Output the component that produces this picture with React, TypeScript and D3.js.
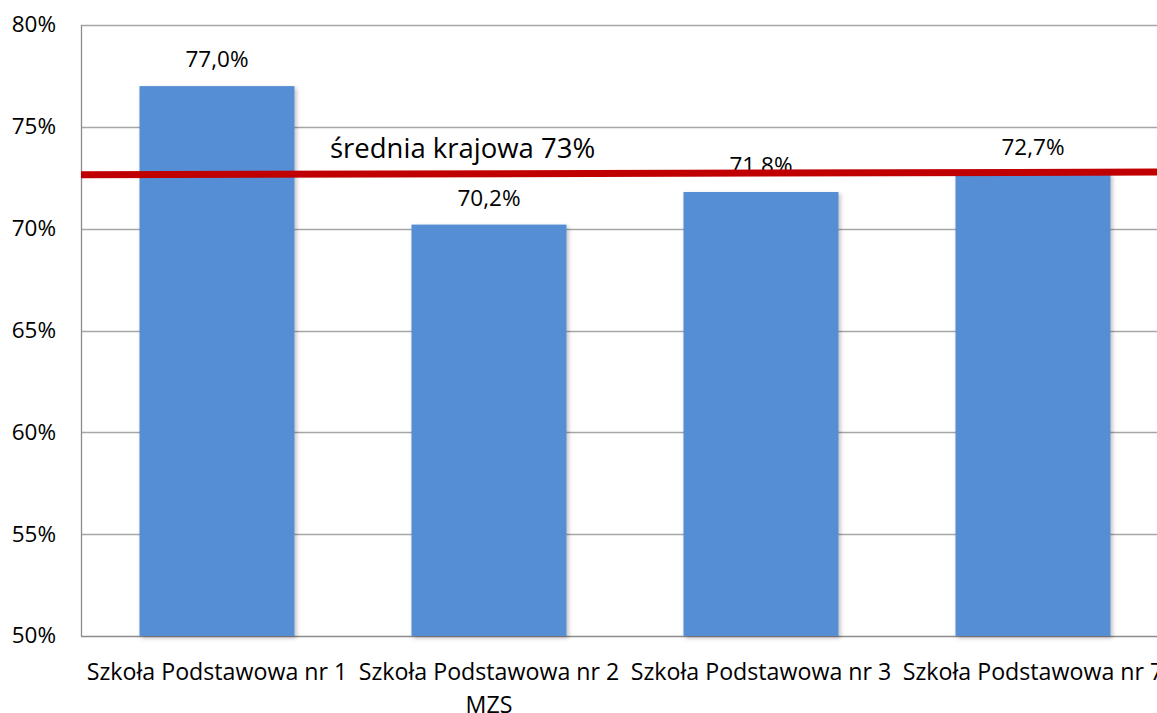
import React from 'react';
import * as d3 from 'd3';

// school names (line breaks as in the original)
const categories = [
  ['Szkoła Podstawowa nr 1'],
  ['Szkoła Podstawowa nr 2', 'MZS'],
  ['Szkoła Podstawowa nr 3'],
  ['Szkoła Podstawowa nr 7'],
];
const values = [77.0, 70.2, 71.8, 72.7];
const yTicks = [50, 55, 60, 65, 70, 75, 80];

// national average line (drawn slightly tilted in the source)
const avgLabel = 'średnia krajowa 73%';
const avgStart = 72.65;
const avgEnd = 72.78;

const W = 1157;
const H = 713;
const margin = { top: 25, right: -12, bottom: 77, left: 81 };
const FONT = "'Open Sans', 'Noto Sans', sans-serif";

const fmt = (v: number) => v.toFixed(1).replace('.', ',') + '%';

const App = () => {
  const x = d3
    .scaleBand<number>()
    .domain(d3.range(categories.length))
    .range([margin.left, W - margin.right])
    .paddingInner(0.43)
    .paddingOuter(0.215);

  const y = d3
    .scaleLinear()
    .domain([50, 80])
    .range([H - margin.bottom, margin.top]);

  const band = x.step();
  const plotRight = W - margin.right;

  return (
    <div style={{ position: 'absolute', left: 0, top: 0, background: '#fff' }}>
      <svg width={W} height={H} style={{ display: 'block', fontFamily: FONT }}>
        <defs>
          <filter id="shadow" x="-10%" y="-10%" width="130%" height="130%">
            <feDropShadow dx="2" dy="2" stdDeviation="2" floodColor="#000" floodOpacity="0.25" />
          </filter>
        </defs>
        <rect width={W} height={H} fill="#fff" />

        {/* grid */}
        {yTicks.map((t) => (
          <line
            key={t}
            x1={margin.left}
            x2={plotRight}
            y1={Math.round(y(t)) + 0.5}
            y2={Math.round(y(t)) + 0.5}
            stroke={t === 50 ? '#8c8c8c' : '#a6a6a6'}
            strokeWidth={1.3}
          />
        ))}
        <line
          x1={margin.left + 0.5}
          x2={margin.left + 0.5}
          y1={y(80)}
          y2={y(50)}
          stroke="#8c8c8c"
          strokeWidth={1.3}
        />

        {/* y tick labels */}
        {yTicks.map((t) => (
          <text
            key={t}
            x={56}
            y={y(t)}
            dy="0.33em"
            textAnchor="end"
            fontSize={22.5}
            fill="#000"
          >
            {t}%
          </text>
        ))}

        {/* bars */}
        {values.map((v, i) => (
          <rect
            key={i}
            x={x(i)}
            y={y(v)}
            width={x.bandwidth()}
            height={y(50) - y(v)}
            fill="#558ed5"
            filter="url(#shadow)"
          />
        ))}

        {/* value labels */}
        {values.map((v, i) => (
          <text
            key={i}
            x={(x(i) as number) + x.bandwidth() / 2}
            y={y(v) - 19}
            textAnchor="middle"
            fontSize={22.5}
            fill="#000"
          >
            {fmt(v)}
          </text>
        ))}

        {/* national average */}
        <line
          x1={margin.left}
          x2={W}
          y1={y(avgStart)}
          y2={y(avgEnd)}
          stroke="#c00000"
          strokeWidth={7}
        />
        <text x={330} y={158} fontSize={27.5} fill="#000">
          {avgLabel}
        </text>

        {/* category labels */}
        {categories.map((lines, i) => (
          <text
            key={i}
            x={margin.left + band * (i + 0.5)}
            y={680}
            textAnchor="middle"
            fontSize={23.2}
            fill="#000"
          >
            {lines.map((l, j) => (
              <tspan key={j} x={margin.left + band * (i + 0.5)} dy={j === 0 ? 0 : 33}>
                {l}
              </tspan>
            ))}
          </text>
        ))}
      </svg>
    </div>
  );
};

export default App;
